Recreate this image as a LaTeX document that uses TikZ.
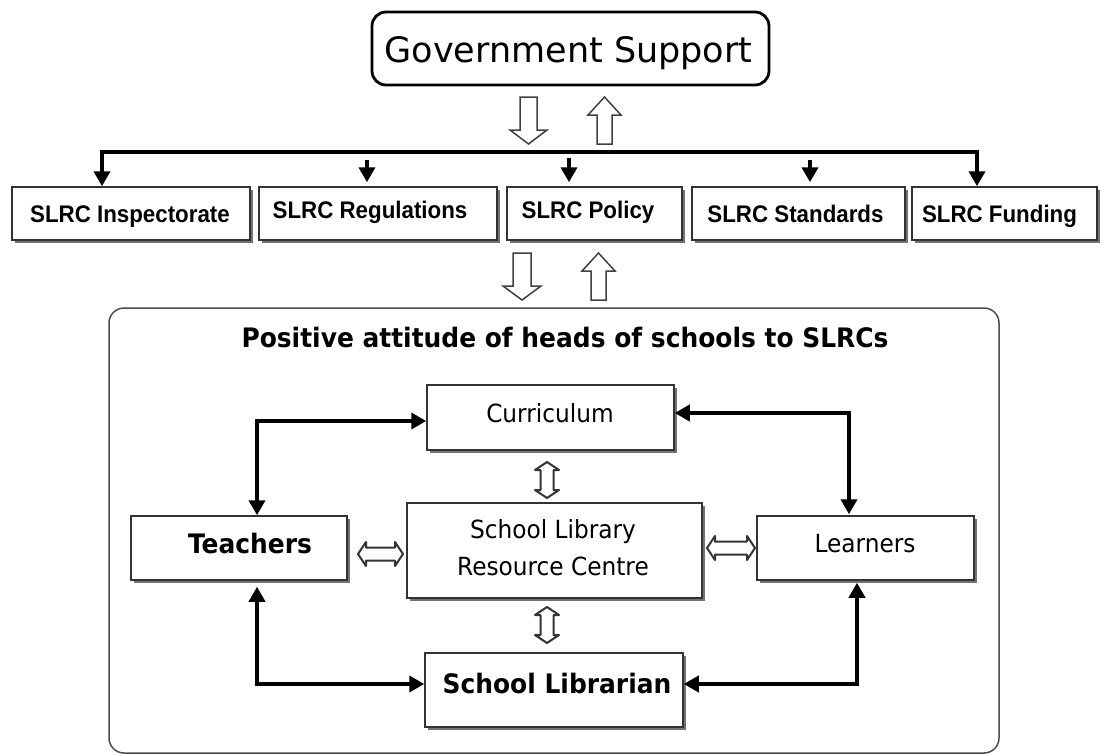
\documentclass[tikz,border=0pt]{standalone}
\usepackage{fontspec}
\setmainfont{DejaVu Sans}
\newfontfamily\dvsans{DejaVu Sans}
\newfontfamily\libsans{Liberation Sans}
\usetikzlibrary{arrows.meta,shadows}
\newcommand\fs[1]{\fontsize{#1}{#1}\selectfont}
\newcommand\nrw[1]{\scalebox{0.93}[1]{#1}}
\newcommand\dblH[3]{%
  \draw[dblarrow] (#1,#3) -- ({#1+8},{#3-12}) -- ({#1+8},{#3-6.5}) -- ({#2-8},{#3-6.5}) -- ({#2-8},{#3-12}) -- (#2,#3)
    -- ({#2-8},{#3+12}) -- ({#2-8},{#3+6.5}) -- ({#1+8},{#3+6.5}) -- ({#1+8},{#3+12}) -- cycle;}
\newcommand\dblV[3]{%
  \draw[dblarrow] (#1,#2) -- ({#1+12},{#2+8}) -- ({#1+6.5},{#2+8}) -- ({#1+6.5},{#3-8}) -- ({#1+12},{#3-8}) -- (#1,#3)
    -- ({#1-12},{#3-8}) -- ({#1-6.5},{#3-8}) -- ({#1-6.5},{#2+8}) -- ({#1-12},{#2+8}) -- cycle;}
\begin{document}
\begin{tikzpicture}[x=0.5pt,y=-0.5pt,
  box/.style={draw=black!80, line width=0.75pt, fill=white, inner sep=0pt,
    drop shadow={shadow xshift=1.6pt, shadow yshift=-1.6pt, fill=black!55, opacity=1}},
  txt/.style={inner sep=0pt, anchor=base},
  toptxt/.style={txt, font=\libsans\bfseries\fs{12pt}},
  regtxt/.style={txt, font=\dvsans\fs{12.5pt}},
  boldtxt/.style={txt, font=\dvsans\bfseries\fs{13.4pt}},
  conntwo/.style={line width=2pt, {Triangle[length=7.5pt,width=8pt]}-{Triangle[length=7.5pt,width=8pt]}},
  connone/.style={line width=2pt, -{Triangle[length=7.5pt,width=8pt]}},
  hollow/.style={draw=black!75, line width=0.75pt, fill=white, line join=miter},
  dblarrow/.style={draw=black!80, line width=1pt, fill=white, line join=round},
]
\useasboundingbox (0,0) rectangle (1100,756);

% Government support
\node[draw=black, line width=1.4pt, rounded corners=7pt, minimum width=198.5pt, minimum height=36.5pt, inner sep=0pt] (gov) at (570.5,48.5) {};
\node[txt, font=\dvsans\fs{17.5pt}] (govt) at (568.5,62) {Government Support};

% hollow arrows (top)
\draw[hollow] (520,97) -- (537,97) -- (537,130) -- (547,130) -- (528.5,144) -- (510,130) -- (520,130) -- cycle;
\draw[hollow] (604.5,97) -- (621,115) -- (612,115) -- (612,144) -- (597,144) -- (597,115) -- (588,115) -- cycle;

% SLRC boxes
\node[box, minimum width=119pt, minimum height=26.5pt] (insp) at (131,213.5) {};
\node[box, minimum width=119pt, minimum height=26.5pt] (regs) at (378,213.5) {};
\node[box, minimum width=87.5pt, minimum height=26.5pt] (pol) at (594.5,213.5) {};
\node[box, minimum width=106.5pt, minimum height=26.5pt] (std) at (798.5,213.5) {};
\node[box, minimum width=92.5pt, minimum height=26.5pt] (fund) at (1004.5,213.5) {};
\node[toptxt] (inspt) at (130,222) {\nrw{SLRC Inspectorate}};
\node[toptxt] (regst) at (370,218) {\nrw{SLRC Regulations}};
\node[toptxt] (polt) at (588,218) {\nrw{SLRC Policy}};
\node[toptxt] (stdt) at (795.5,222) {\nrw{SLRC Standards}};
\node[toptxt] (fundt) at (999.5,222) {\nrw{SLRC Funding}};

% distribution line
\coordinate (hl) at (102,152);
\coordinate (hr) at (977,152);
\draw[conntwo] (insp.north -| hl) |- (hr) -- (fund.north -| hr);
\coordinate (ra) at (367,160);
\coordinate (pa) at (569,158);
\coordinate (sa) at (810,160);
\draw[connone] (ra) -- ([yshift=2pt]regs.north -| ra);
\draw[connone] (pa) -- ([yshift=2pt]pol.north -| pa);
\draw[connone] (sa) -- ([yshift=2pt]std.north -| sa);

% hollow arrows (below)
\draw[hollow] (513,253) -- (531,253) -- (531,286) -- (541,286) -- (522,300) -- (503,286) -- (513,286) -- cycle;
\draw[hollow] (598.5,253) -- (615,271) -- (606,271) -- (606,300) -- (591,300) -- (591,271) -- (582,271) -- cycle;

% outer frame
\node[draw=black!70, line width=0.75pt, rounded corners=7.5pt, minimum width=445pt, minimum height=222.5pt, inner sep=0pt] (outer) at (554,530.5) {};
\node[boldtxt] (title) at (565,347) {\nrw{Positive attitude of heads of schools to SLRCs}};

% inner boxes
\node[box, minimum width=123.5pt, minimum height=32.5pt] (curr) at (550.5,417.5) {};
\node[box, minimum width=147.5pt, minimum height=47.5pt] (slrc) at (554.5,550.5) {};
\node[box, minimum width=108pt, minimum height=32pt] (teach) at (239,548) {};
\node[box, minimum width=108.5pt, minimum height=32pt] (learn) at (865.5,548) {};
\node[box, minimum width=129pt, minimum height=37pt] (libr) at (554,690) {};

\node[regtxt] (currt) at (550,422) {\nrw{Curriculum}};
\node[regtxt] (slrct1) at (553,538) {\nrw{School Library}};
\node[regtxt] (slrct2) at (553,575) {\nrw{Resource Centre}};
\node[boldtxt] (teacht) at (250,553) {\nrw{Teachers}};
\node[regtxt] (learnt) at (865,552) {\nrw{Learners}};
\node[boldtxt] (librt) at (557,693) {\nrw{School Librarian}};

% connectors
\coordinate (tl) at (257,421);
\coordinate (rl) at (849,413);
\coordinate (bl) at (257,684);
\coordinate (br) at (857,684);
\draw[conntwo] (teach.north -| tl) |- (curr.west |- tl);
\draw[conntwo] (curr.east |- rl) -| ([yshift=0.5pt]learn.north -| rl);
\draw[conntwo] ([yshift=-3pt]teach.south -| bl) |- (libr.west |- bl);
\draw[conntwo] (libr.east |- br) -| ([yshift=-1pt]learn.south -| br);

% double arrows
\dblV{547}{462}{498}
\dblV{547}{607}{643}
\dblH{358}{403}{554}
\dblH{707}{755}{548}
\end{tikzpicture}
\end{document}
